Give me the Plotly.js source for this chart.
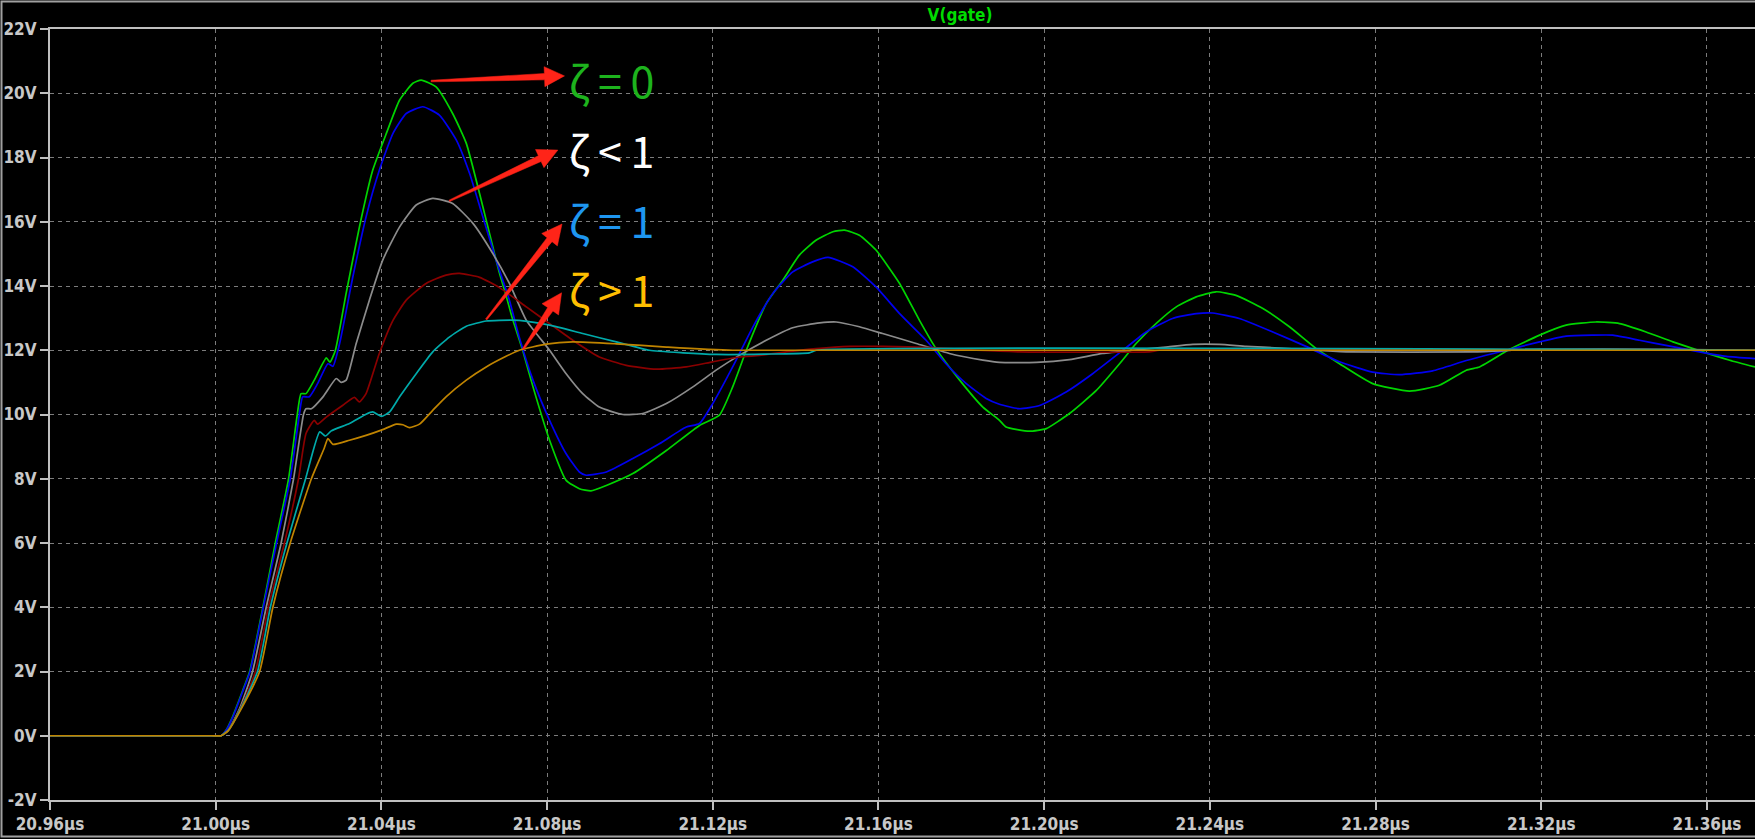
<!DOCTYPE html>
<html>
<head>
<meta charset="utf-8">
<script src="https://cdn.plot.ly/plotly-3.0.1.min.js"></script>
<style>
html,body{margin:0;padding:0;background:#000;}
#chart{width:1755px;height:839px;}
</style>
</head>
<body>
<div id="chart"></div>
<script>
// ---- data (time in µs, voltage in V) ----
const tGreen = [20.96,20.999,21.0013,21.0025,21.0041,21.0065,21.0082,21.0114,21.0144,21.0176,21.0197,21.0206,21.0218,21.0238,21.0267,21.0276,21.0289,21.0315,21.0347,21.0379,21.0412,21.0444,21.0476,21.0496,21.0532,21.0572,21.0605,21.0637,21.0669,21.0685,21.0701,21.0716,21.0741,21.0766,21.0806,21.0846,21.0878,21.0906,21.0943,21.1007,21.1088,21.1168,21.1216,21.1248,21.1281,21.1329,21.1369,21.1409,21.1450,21.1490,21.1518,21.1554,21.1594,21.1651,21.1699,21.1739,21.1796,21.1852,21.1892,21.1908,21.1964,21.2005,21.2061,21.2126,21.2182,21.2222,21.2270,21.2319,21.2367,21.2415,21.2463,21.2528,21.2592,21.2657,21.2713,21.2793,21.2882,21.2954,21.3019,21.3051,21.3099,21.3115,21.3196,21.3260,21.3332,21.3389,21.3453,21.3518,21.3590,21.3655,21.3716];
const vGreen = [0,0,0,0.17,0.6,1.4,2.0,4.0,6.0,8.0,10.0,10.65,10.65,11.07,11.76,11.63,12.0,13.78,15.84,17.6,18.75,19.79,20.31,20.41,20.2,19.37,18.44,16.88,15.22,14.4,13.7,13.0,12.0,10.86,9.2,7.95,7.69,7.62,7.79,8.16,8.88,9.66,9.98,10.86,12.0,13.45,14.18,14.96,15.43,15.69,15.74,15.58,15.12,14.08,12.93,12.05,11.07,10.23,9.82,9.61,9.48,9.56,10.03,10.75,11.58,12.21,12.83,13.35,13.66,13.82,13.71,13.3,12.73,12.05,11.58,10.96,10.73,10.91,11.38,11.48,11.84,11.97,12.47,12.78,12.88,12.83,12.57,12.26,11.95,11.69,11.48];

const tBlue = [20.96,20.999,21.0013,21.0025,21.0041,21.0065,21.0083,21.0115,21.0147,21.0180,21.0202,21.0210,21.0226,21.0246,21.0271,21.0283,21.0299,21.0331,21.0363,21.0395,21.0428,21.0460,21.0500,21.0540,21.0581,21.0613,21.0645,21.0677,21.0709,21.0733,21.0766,21.0806,21.0846,21.0878,21.0894,21.0943,21.1007,21.1071,21.1136,21.1168,21.1200,21.1248,21.1297,21.1345,21.1393,21.1441,21.1478,21.1538,21.1594,21.1651,21.1715,21.1763,21.1812,21.1860,21.1892,21.1940,21.1989,21.2053,21.2117,21.2190,21.2246,21.2310,21.2367,21.2407,21.2471,21.2552,21.2632,21.2713,21.2793,21.2858,21.2938,21.3019,21.3115,21.3196,21.3260,21.3324,21.3373,21.3437,21.3501,21.3582,21.3647,21.3716];
const vBlue = [0,0,0,0.16,0.57,1.37,2.0,4.0,6.0,8.0,10.0,10.55,10.55,10.96,11.58,11.5,12.2,14.28,16.15,17.6,18.75,19.37,19.58,19.32,18.54,17.5,16.15,14.8,13.56,12.4,11.07,9.82,8.78,8.21,8.11,8.21,8.63,9.09,9.61,9.72,10.34,11.48,12.73,13.77,14.44,14.75,14.89,14.6,13.97,13.14,12.31,11.58,10.96,10.5,10.32,10.18,10.28,10.7,11.27,12.0,12.57,12.99,13.14,13.16,12.99,12.57,12.12,11.64,11.32,11.24,11.36,11.68,12.0,12.26,12.44,12.47,12.47,12.31,12.15,11.95,11.81,11.74];

const tGray = [20.96,20.999,21.0013,21.0030,21.0058,21.0089,21.0122,21.0158,21.0188,21.0212,21.0218,21.0231,21.0259,21.0291,21.0303,21.0315,21.0339,21.0371,21.0403,21.0444,21.0484,21.0524,21.0572,21.0621,21.0669,21.0709,21.0750,21.0806,21.0846,21.0886,21.0926,21.0983,21.1031,21.1088,21.1152,21.1208,21.1264,21.1329,21.1393,21.1458,21.1498,21.1554,21.1610,21.1691,21.1771,21.1852,21.1892,21.1981,21.2061,21.2141,21.2214,21.2294,21.2359,21.2423,21.2488,21.2568,21.2648,21.2729,21.3035,21.3196,21.3501,21.3716];
const vGray = [0,0,0,0.17,0.85,2.0,4.0,6.0,8.0,10.0,10.18,10.18,10.55,11.12,11.0,11.07,12.2,13.56,14.8,15.84,16.52,16.73,16.57,15.95,15.01,14.08,12.93,12.0,11.27,10.65,10.23,10.0,10.03,10.34,10.86,11.38,11.84,12.31,12.7,12.85,12.88,12.73,12.52,12.21,11.9,11.69,11.62,11.62,11.71,11.9,12.0,12.1,12.18,12.18,12.12,12.07,12.0,11.95,11.95,12.03,12.03,12.0];

const tRed = [20.96,20.999,21.0013,21.0030,21.0058,21.0096,21.0127,21.0166,21.0200,21.0218,21.0238,21.0246,21.0267,21.0307,21.0335,21.0347,21.0363,21.0395,21.0428,21.0460,21.0508,21.0556,21.0589,21.0637,21.0685,21.0750,21.0806,21.0862,21.0926,21.0991,21.1063,21.1136,21.1200,21.1264,21.1313,21.1378,21.1450,21.1530,21.1610,21.1731,21.1836,21.1940,21.2254,21.2278,21.3716];
const vRed = [0,0,0,0.16,0.8,2.0,4.0,6.0,8.0,9.41,9.82,9.7,9.92,10.29,10.53,10.39,10.65,11.9,12.93,13.56,14.08,14.34,14.39,14.27,13.95,13.35,12.83,12.31,11.79,11.53,11.41,11.48,11.64,11.79,11.84,11.95,12.05,12.12,12.12,12.08,12.0,11.95,11.95,12.0,12.0];

const tCyan = [20.96,20.999,21.0013,21.0030,21.0058,21.0101,21.0132,21.0172,21.0217,21.0251,21.0265,21.0279,21.0323,21.0363,21.0379,21.0400,21.0420,21.0444,21.0484,21.0524,21.0564,21.0605,21.0653,21.0685,21.0733,21.0806,21.0886,21.0967,21.1047,21.1128,21.1208,21.1329,21.1433,21.1450,21.3716];
const vCyan = [0,0,0,0.16,0.78,2.0,4.0,6.0,8.0,9.46,9.33,9.49,9.72,10.01,10.08,9.94,10.08,10.55,11.27,11.95,12.41,12.75,12.91,12.93,12.93,12.78,12.52,12.26,12.0,11.92,11.87,11.88,11.92,12.0,12.0];

const tOrange = [20.96,20.999,21.0013,21.0030,21.0058,21.0106,21.0138,21.0180,21.0231,21.0262,21.0271,21.0283,21.0323,21.0363,21.0403,21.0436,21.0452,21.0468,21.0492,21.0524,21.0556,21.0605,21.0653,21.0701,21.0733,21.0798,21.0862,21.0967,21.1088,21.1248,21.3716];
const vOrange = [0,0,0,0.15,0.75,2.0,4.0,6.0,8.0,8.95,9.25,9.07,9.2,9.35,9.53,9.7,9.68,9.59,9.7,10.13,10.55,11.07,11.48,11.81,12.0,12.19,12.26,12.2,12.1,12.0,12.0];

// ---- axes ----
const xTickVals = [20.96,21.00,21.04,21.08,21.12,21.16,21.20,21.24,21.28,21.32,21.36];
const xTickText = ["20.96µs","21.00µs","21.04µs","21.08µs","21.12µs","21.16µs","21.20µs","21.24µs","21.28µs","21.32µs","21.36µs"];
const yTickVals = [-2,0,2,4,6,8,10,12,14,16,18,20,22];
const yTickText = ["-2V","0V","2V","4V","6V","8V","10V","12V","14V","16V","18V","20V","22V"];
const xRange = [20.96, 21.3716];
const yRange = [-2, 22];

// ---- labels and arrows ----
const labelText = ["ζ\u2009=\u20090","ζ\u2009<\u20091","ζ\u2009=\u20091","ζ\u2009>\u20091"];
const labelColor = ["#1db31d","#ffffff","#1e96f0","#ffbf00"];
const labelT = [21.0847,21.0847,21.0847,21.0847];
const labelV = [20.44,18.26,16.09,13.95];
const arrowTailT = [21.0520,21.0564,21.0653,21.0742];
const arrowTailV = [20.38,16.65,12.96,12.03];
const arrowHeadT = [21.0842,21.0826,21.0836,21.0835];
const arrowHeadV = [20.54,18.23,15.93,13.79];

const W = 1755, H = 839;
const M = {l:50, r:0, t:29, b:39};
const plotW = W - M.l - M.r, plotH = H - M.t - M.b;
const kx = plotW / (xRange[1]-xRange[0]);
const ky = plotH / (yRange[1]-yRange[0]);

function wedgePath(i){
  const tx = arrowTailT[i]*kx, ty = -arrowTailV[i]*ky;
  const hx = arrowHeadT[i]*kx, hy = -arrowHeadV[i]*ky;
  let dx = hx-tx, dy = hy-ty;
  const len = Math.hypot(dx,dy); dx/=len; dy/=len;
  const nx = -dy, ny = dx;
  const headLen = 20, w0 = 0.8, w1 = 3.2, wh = 10;
  const bx = hx - dx*headLen, by = hy - dy*headLen;
  const pts = [
    [tx+nx*w0, ty+ny*w0],
    [bx+nx*w1, by+ny*w1],
    [bx+nx*wh, by+ny*wh],
    [hx, hy],
    [bx-nx*wh, by-ny*wh],
    [bx-nx*w1, by-ny*w1],
    [tx-nx*w0, ty-ny*w0]
  ];
  return pts.map((p,j)=> (j===0?'M':'L') + (p[0]-hx).toFixed(2) + ',' + (-(p[1]-hy)).toFixed(2)).join(' ') + ' Z';
}

const traceDefs = [
  {t:tGreen, v:vGreen, c:'#00d400'},
  {t:tBlue, v:vBlue, c:'#0000f0'},
  {t:tGray, v:vGray, c:'#8c8c8c'},
  {t:tRed, v:vRed, c:'#8a0000'},
  {t:tCyan, v:vCyan, c:'#00aaaa'},
  {t:tOrange, v:vOrange, c:'#c08400'}
];
const data = traceDefs.map(d => ({
  x: d.t, y: d.v, type:'scatter', mode:'lines',
  line:{color:d.c, width:1.7, shape:'spline', smoothing:0.5}, hoverinfo:'skip'
}));

const tickFont = {family:'"Liberation Sans Narrow", "DejaVu Sans Condensed", "Arial Narrow", sans-serif', size:17, color:'#c8c8c8', weight:'bold'};

const shapes = labelText.map((_,i)=>({
  type:'path', xref:'x', yref:'y', xsizemode:'pixel', ysizemode:'pixel',
  xanchor: arrowHeadT[i], yanchor: arrowHeadV[i],
  path: wedgePath(i), fillcolor:'#ff2418', line:{color:'#ff2418', width:0.5}, layer:'above'
}));
shapes.push({
  type:'rect', xref:'paper', yref:'paper',
  x0: (1.5-M.l)/plotW, x1: 1.02, y0: -(836.5-(H-M.b))/plotH, y1: 1+(M.t-1.5)/plotH,
  line:{color:'#a0a0a0', width:2}, layer:'above'
});

const annotations = labelText.map((s,i)=>({
  x: labelT[i], y: labelV[i], xref:'x', yref:'y', text: s, showarrow:false,
  xanchor:'left', yanchor:'middle',
  font:{family:'"Noto Sans CJK SC", "Noto Sans", sans-serif', size:43, color:labelColor[i]}
}));

const layout = {
  width: W, height: H,
  paper_bgcolor:'#000', plot_bgcolor:'#000',
  margin:{l:M.l, r:M.r, t:M.t, b:M.b, pad:0},
  showlegend:false,
  title:{text:'V(gate)', x:960/W, xanchor:'center', y:1-15/H, yanchor:'middle', xref:'container', yref:'container',
         font:{family:'"Liberation Sans Narrow", "DejaVu Sans Condensed", sans-serif', size:17, color:'#00dc00', weight:'bold'}},
  xaxis:{range:xRange, tickvals:xTickVals, ticktext:xTickText, showgrid:true, gridcolor:'#7c7c7c', gridwidth:1, griddash:'4px,4px',
         zeroline:false, showline:true, linecolor:'#bfbfbf', linewidth:2, mirror:true, ticks:'outside', ticklen:8, tickcolor:'#bfbfbf', tickwidth:2,
         tickfont:tickFont, fixedrange:true},
  yaxis:{range:yRange, tickvals:yTickVals, ticktext:yTickText, showgrid:true, gridcolor:'#7c7c7c', gridwidth:1, griddash:'4px,4px',
         zeroline:false, showline:true, linecolor:'#bfbfbf', linewidth:2, mirror:false, ticks:'outside', ticklen:8, tickcolor:'#bfbfbf', tickwidth:2,
         tickfont:tickFont, fixedrange:true},
  shapes: shapes,
  annotations: annotations
};

Plotly.newPlot('chart', data, layout, {displayModeBar:false, staticPlot:true});
</script>
</body>
</html>
